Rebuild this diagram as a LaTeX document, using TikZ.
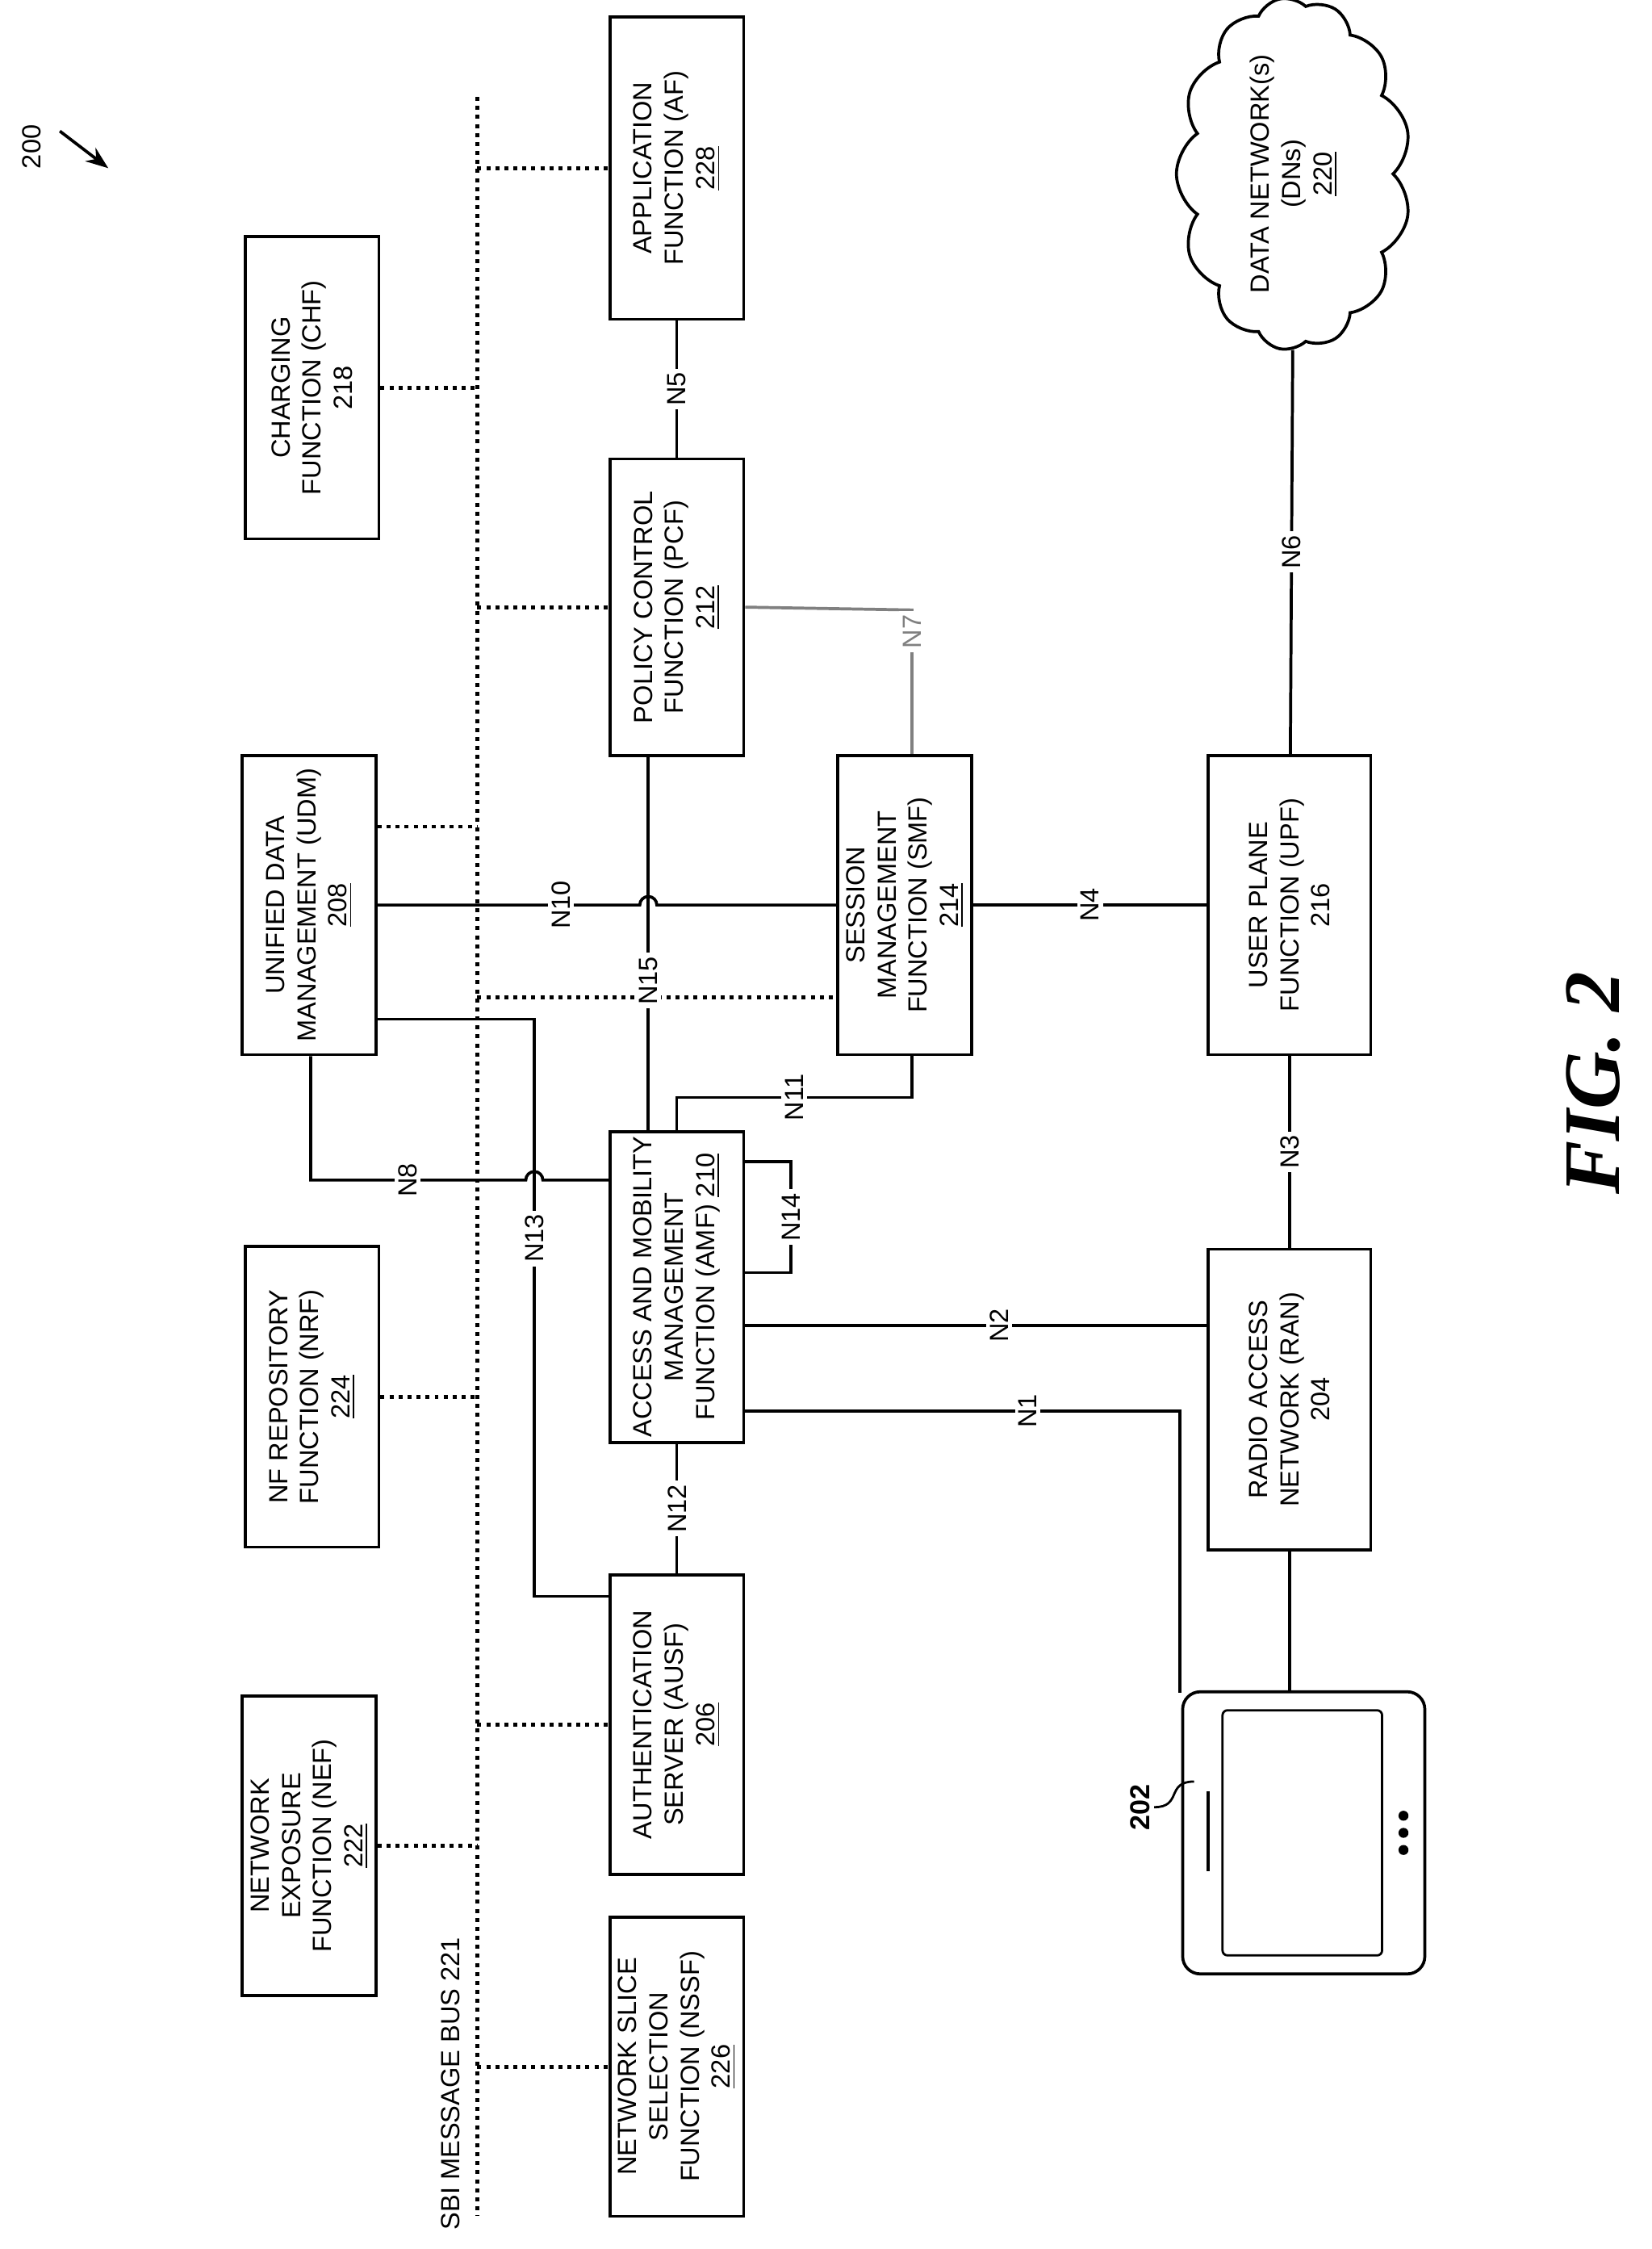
\documentclass[tikz,border=0pt]{standalone}
\usepackage{fontspec}
\setmainfont{Liberation Sans}
\newfontfamily\figfont{Liberation Serif}
\usetikzlibrary{shapes.symbols,arrows.meta}

\begin{document}
\begin{tikzpicture}[x=0.02cm, y=-0.02cm, line width=1.2pt,
  font=\fontsize{10.5}{12.5}\selectfont,
  box/.style 2 args={draw, rectangle, rotate=90, align=center, inner sep=2pt,
    minimum width=#1*0.02cm, minimum height=#2*0.02cm},
  bus/.style={dotted, line width=1.6pt},
  link/.style={draw},
  lbl/.style={fill=white, rotate=90, inner sep=1.5pt},
  ]
  \useasboundingbox (0,0) rectangle (1159,1578);

  % network functions
  \node (af)   [box={212}{94}]  at (475,118)  {APPLICATION\\FUNCTION (AF)\\\underline{228}};
  \node (chf)  [box={212}{94}]  at (219,272)  {CHARGING\\FUNCTION (CHF)\\218};
  \node (pcf)  [box={208}{94}]  at (475,426)  {POLICY CONTROL\\FUNCTION (PCF)\\\underline{212}};
  \node (udm)  [box={210}{94}]  at (217,635)  {UNIFIED DATA\\MANAGEMENT (UDM)\\\underline{208}};
  \node (smf)  [box={210}{94}]  at (635,635)  {SESSION\\MANAGEMENT\\FUNCTION (SMF)\\\underline{214}};
  \node (upf)  [box={210}{114}] at (905,635)  {USER PLANE\\FUNCTION (UPF)\\216};
  \node (nrf)  [box={211}{94}]  at (219,980)  {NF REPOSITORY\\FUNCTION (NRF)\\\underline{224}};
  \node (amf)  [box={200}{94}]  at (475,903)  {ACCESS AND MOBILITY\\MANAGEMENT\\FUNCTION (AMF) \underline{210}};
  \node (ran)  [box={211}{114}] at (905,982)  {RADIO ACCESS\\NETWORK (RAN)\\204};
  \node (ausf) [box={210}{94}]  at (475,1210) {AUTHENTICATION\\SERVER (AUSF)\\\underline{206}};
  \node (nef)  [box={210}{94}]  at (217,1295) {NETWORK\\EXPOSURE\\FUNCTION (NEF)\\\underline{222}};
  \node (nssf) [box={210}{94}]  at (475,1450) {NETWORK SLICE\\SELECTION\\FUNCTION (NSSF)\\\underline{226}};
  \node (dn)   [draw, cloud, cloud puffs=13, cloud puff arc=110, aspect=1.7, rotate=90,
    minimum width=4.2cm, minimum height=2.45cm, align=center, inner sep=0pt] at (908,122)
    {DATA NETWORK(s)\\(DNs)\\\underline{220}};

  % SBI message bus
  \coordinate (bustop) at (335,68);
  \coordinate (busend) at (335,1555);
  \draw[bus] (bustop) -- (busend);
  \node (buslbl) [rotate=90] at (316,1462) {SBI MESSAGE BUS 221};
  \draw[bus] (bustop |- af)   -- (af.north);
  \draw[bus] (chf.south)      -- (bustop |- chf);
  \draw[bus] (bustop |- pcf)  -- (pcf.north);
  \draw[bus] (udm.south |- 0,580) -- (335,580);
  \draw[bus] (335,700) -- (smf.north |- 0,700);
  \draw[bus] (nrf.south)      -- (bustop |- nrf);
  \draw[bus] (bustop |- ausf) -- (ausf.north);
  \draw[bus] (nef.south)      -- (bustop |- nef);
  \draw[bus] (bustop |- nssf) -- (nssf.north);

  % reference points
  \path[link] (af) -- node[lbl] {N5} (pcf);
  \path[link] (dn) -- node[lbl, pos=0.5] {N6} (upf);
  \draw[gray] (pcf.south) -- (640,428) -- node[lbl, pos=0.15] {N7} (smf.east -| 640,0);
  \draw (udm.south) -- node[lbl, pos=0.7] {N10} (449,635) arc (180:360:6) -- (smf.north);
  \draw (pcf.west -| 455,0) -- node[lbl, pos=0.6] {N15} (amf.east -| 455,0);
  \path[link] (smf) -- node[lbl] {N4} (upf);
  \draw (amf.east -| 475,0) -- (475,770) -- node[lbl] {N11} (640,770) -- (smf.west -| 640,0);
  \draw (udm.west -| 218,0) -- (218,828) -- node[lbl, pos=0.45] {N8} (369,828) arc (180:360:6) -- (amf.north |- 0,828);
  \draw (udm.south |- 0,715) -- (375,715) -- node[lbl, pos=0.38] {N13} (375,1120) -- (ausf.north |- 0,1120);
  \draw (amf.south |- 0,815) -- (555,815) -- node[lbl] {N14} (555,893) -- (amf.south |- 0,893);
  \draw (amf.south |- 0,930) -- node[lbl, pos=0.55] {N2} (ran.north |- 0,930);
  \draw (amf.south |- 0,990) -- node[lbl, pos=0.65] {N1} (828,990) -- (828,1188);
  \path[link] (ran) -- node[lbl] {N3} (upf);
  \draw (amf.west) -- node[lbl] {N12} (ausf.east);

  % user equipment
  \node (ue) [draw, rounded corners=7pt, minimum width=3.4cm, minimum height=3.96cm] at (915,1286) {};
  \draw[rounded corners=2pt, line width=0.9pt] (858,1200) rectangle (970,1372);
  \draw (848,1257) -- (848,1313);
  \foreach \d in {1274,1286,1298} \fill (985,\d) circle (3.5);
  \draw (ran) -- (ue.north -| ran);
  \node (uelbl) [rotate=90, font=\fontsize{11}{13}\selectfont\bfseries] at (800,1268) {202};
  \draw[line width=0.9pt] (810,1268) .. controls (830,1268) and (818,1250) .. (838,1250);

  % figure labels
  \node (fig) [rotate=90] at (22,103) {200};
  \draw[-{Stealth[length=9pt]}] (42,92) -- (76,118);
  \node (figlbl) [rotate=90, font=\figfont\bfseries\itshape\fontsize{32}{36}\selectfont] at (1118,760) {FIG. 2};
\end{tikzpicture}
\end{document}
